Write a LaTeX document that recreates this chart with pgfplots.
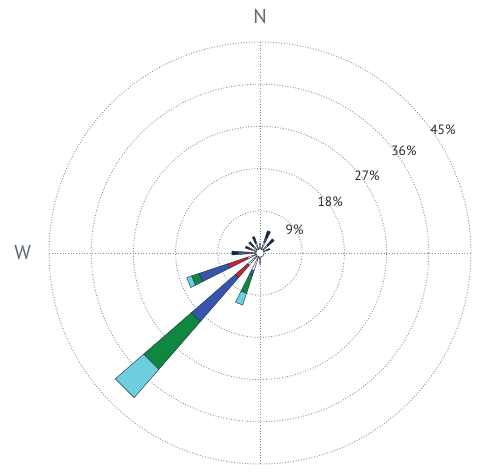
\documentclass[border=0pt]{standalone}
\usepackage{pgfplots}
\pgfplotsset{compat=1.18}
\usepgfplotslibrary{polar}
\usepackage{fontspec}
\setmainfont{PT Sans}
\definecolor{gridc}{RGB}{135,135,175}
\definecolor{redc}{RGB}{205,35,45}
\definecolor{bluec}{RGB}{55,85,170}
\definecolor{greenc}{RGB}{15,135,65}
\definecolor{cyanc}{RGB}{110,205,222}
\definecolor{navyc}{RGB}{25,30,70}
\definecolor{edgec}{RGB}{35,55,70}
\definecolor{dirc}{RGB}{95,105,112}
\definecolor{pctc}{RGB}{45,45,45}
\begin{document}
\begin{tikzpicture}
\begin{polaraxis}[
  scale only axis, width=422bp, height=422bp,
  ymin=0, ymax=45, xmin=0, xmax=360,
  xtick={0,90,180,270},
  ytick={9,18,27,36,45},
  xticklabels={,,,}, yticklabels={,,,,},
  ticklabel style={opacity=0},
  major tick length=0pt,
  grid=major,
  major grid style={draw=gridc, line width=0.9pt, dash pattern=on 0.9pt off 1.8pt},
  axis line style={draw=none},
  seg/.style={draw=edgec, line width=0.45pt, mark=none, line join=miter},
  clip=false,
]
% SW (bearing 225 -> 225)
\addplot[seg, fill=white]  coordinates {(221,0.9) (229,0.9) (229,3.5) (221,3.5)} --cycle;
\addplot[seg, fill=redc]   coordinates {(221,3.5) (229,3.5) (229,7) (221,7)} --cycle;
\addplot[seg, fill=bluec]  coordinates {(221,7) (229,7) (229,19.4) (221,19.4)} --cycle;
\addplot[seg, fill=greenc] coordinates {(221,19.4) (229,19.4) (229,32.9) (221,32.9)} --cycle;
\addplot[seg, fill=cyanc]  coordinates {(221,32.9) (229,32.9) (229,40.9) (221,40.9)} --cycle;
% WSW (bearing 247.5 -> 202.5)
\addplot[seg, fill=white]  coordinates {(198.5,0.9) (206.5,0.9) (206.5,2.8) (198.5,2.8)} --cycle;
\addplot[seg, fill=redc]   coordinates {(198.5,2.8) (206.5,2.8) (206.5,7.2) (198.5,7.2)} --cycle;
\addplot[seg, fill=bluec]  coordinates {(198.5,7.2) (206.5,7.2) (206.5,13.7) (198.5,13.7)} --cycle;
\addplot[seg, fill=greenc] coordinates {(198.5,13.7) (206.5,13.7) (206.5,15.4) (198.5,15.4)} --cycle;
\addplot[seg, fill=cyanc]  coordinates {(198.5,15.4) (206.5,15.4) (206.5,16.5) (198.5,16.5)} --cycle;
% SSW (bearing 202.5 -> 247.5)
\addplot[seg, fill=white]  coordinates {(243.5,0.9) (251.5,0.9) (251.5,4) (243.5,4)} --cycle;
\addplot[seg, fill=bluec]  coordinates {(243.5,4) (251.5,4) (251.5,5) (243.5,5)} --cycle;
\addplot[seg, fill=greenc] coordinates {(243.5,5) (251.5,5) (251.5,9.1) (243.5,9.1)} --cycle;
\addplot[seg, fill=cyanc]  coordinates {(243.5,9.1) (251.5,9.1) (251.5,11.7) (243.5,11.7)} --cycle;
% W (bearing 270 -> 180)
\addplot[seg, fill=white]  coordinates {(176,0.9) (184,0.9) (184,1.5) (176,1.5)} --cycle;
\addplot[seg, fill=redc]   coordinates {(176,1.5) (184,1.5) (184,2.8) (176,2.8)} --cycle;
\addplot[seg, fill=bluec]  coordinates {(176,2.8) (184,2.8) (184,4.7) (176,4.7)} --cycle;
\addplot[seg, fill=navyc]  coordinates {(176,4.7) (184,4.7) (184,6.0) (176,6.0)} --cycle;
% WNW (bearing 292.5 -> 157.5)
\addplot[seg, fill=white]  coordinates {(153.5,0.9) (161.5,0.9) (161.5,1.8) (153.5,1.8)} --cycle;
\addplot[seg, fill=redc]   coordinates {(153.5,1.8) (161.5,1.8) (161.5,2.5) (153.5,2.5)} --cycle;
\addplot[seg, fill=navyc]  coordinates {(153.5,2.5) (161.5,2.5) (161.5,3.3) (153.5,3.3)} --cycle;
% NW (bearing 315 -> 135)
\addplot[seg, fill=white]  coordinates {(131,0.9) (139,0.9) (139,2.0) (131,2.0)} --cycle;
\addplot[seg, fill=navyc]  coordinates {(131,2.0) (139,2.0) (139,3.2) (131,3.2)} --cycle;
% NNW (bearing 337.5 -> 112.5)
\addplot[seg, fill=white]  coordinates {(108.5,0.9) (116.5,0.9) (116.5,2.2) (108.5,2.2)} --cycle;
\addplot[seg, fill=navyc]  coordinates {(108.5,2.2) (116.5,2.2) (116.5,3.7) (108.5,3.7)} --cycle;
% NNE (bearing 22.5 -> 67.5)
\addplot[seg, fill=white]  coordinates {(63.5,0.9) (71.5,0.9) (71.5,2.5) (63.5,2.5)} --cycle;
\addplot[seg, fill=bluec]  coordinates {(63.5,2.5) (71.5,2.5) (71.5,3.5) (63.5,3.5)} --cycle;
\addplot[seg, fill=navyc]  coordinates {(63.5,3.5) (71.5,3.5) (71.5,5.0) (63.5,5.0)} --cycle;
% NE (bearing 45 -> 45)
\addplot[seg, fill=white]  coordinates {(41,0.9) (49,0.9) (49,2.2) (41,2.2)} --cycle;
\addplot[seg, fill=navyc]  coordinates {(41,2.2) (49,2.2) (49,4.0) (41,4.0)} --cycle;
% ENE (bearing 67.5 -> 22.5)
\addplot[seg, fill=white]  coordinates {(18.5,0.9) (26.5,0.9) (26.5,1.6) (18.5,1.6)} --cycle;
\addplot[seg, fill=navyc]  coordinates {(18.5,1.6) (26.5,1.6) (26.5,2.2) (18.5,2.2)} --cycle;
% N (bearing 0 -> 90)
\addplot[seg, fill=white]  coordinates {(86,0.9) (94,0.9) (94,2.0) (86,2.0)} --cycle;
% S (bearing 180 -> 270)
\addplot[seg, fill=white]  coordinates {(266,0.9) (274,0.9) (274,2.4) (266,2.4)} --cycle;
\coordinate (c) at (axis cs:0,0);
\node[font=\fontsize{20bp}{24bp}\selectfont, text=dirc] at (axis cs:90,50.4) {N};
\node[font=\fontsize{20bp}{24bp}\selectfont, text=dirc] at (axis cs:180,50.6) {W};
\node[font=\fontsize{13.5bp}{16bp}\selectfont, text=pctc] at (axis cs:34,8.9) {9\%};
\node[font=\fontsize{13.5bp}{16bp}\selectfont, text=pctc] at (axis cs:36,18.5) {18\%};
\node[font=\fontsize{13.5bp}{16bp}\selectfont, text=pctc] at (axis cs:35.7,28.1) {27\%};
\node[font=\fontsize{13.5bp}{16bp}\selectfont, text=pctc] at (axis cs:35.3,37.6) {36\%};
\node[font=\fontsize{13.5bp}{16bp}\selectfont, text=pctc] at (axis cs:33.9,47) {45\%};
\end{polaraxis}
\draw[edgec, fill=white, line width=0.6pt] (c) circle (4.2bp);
\path[use as bounding box] ([shift={(-260bp,-219bp)}]c) rectangle ([shift={(218bp,253bp)}]c);
\end{tikzpicture}
\end{document}
